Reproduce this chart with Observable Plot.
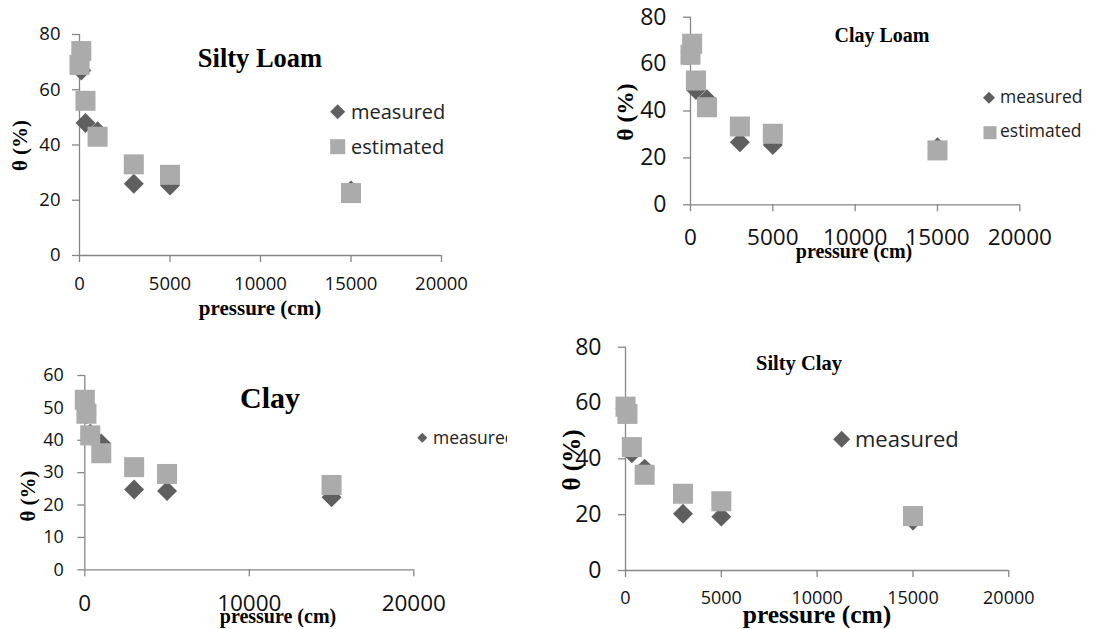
<!DOCTYPE html>
<html><head><meta charset="utf-8">
<script src="https://cdn.jsdelivr.net/npm/d3@7"></script>
<script src="https://cdn.jsdelivr.net/npm/@observablehq/plot@0.6"></script>
<style>
html,body{margin:0;padding:0;background:#fff;}
#root{position:relative;width:1104px;height:629px;overflow:hidden;background:#fff;}
.panel{position:absolute;}
.panel svg{overflow:visible;}
#overlay{position:absolute;left:0;top:0;pointer-events:none;}
</style></head><body><div id="root"></div>
<script>
// ---- data ----
const pressure = [0, 100, 330, 1000, 3000, 5000, 15000];
const siltyLoamMeasured  = [70, 67, 48, 45, 26, 25.3, 23.5];
const siltyLoamEstimated = [69, 74, 56, 43, 33, 29.2, 22.6];
const clayLoamMeasured   = [65, 67, 49, 45, 26.7, 25.5, 24.5];
const clayLoamEstimated  = [64, 68.7, 53, 41.6, 33.4, 30.3, 23.2];
const clayMeasured       = [51.5, 48, 42, 39, 24.8, 24.3, 22.4];
const clayEstimated      = [52.5, 48.2, 41.5, 36, 31.7, 29.6, 26.2];
const siltyClayMeasured  = [58, 56, 42, 36.5, 20.3, 19.3, 17.9];
const siltyClayEstimated = [58.7, 56.1, 44.2, 34.3, 27.5, 24.8, 19.5];
const xTicksFive  = [0, 5000, 10000, 15000, 20000];
const xTicksThree = [0, 10000, 20000];
const yTicks80 = [0, 20, 40, 60, 80];
const yTicks60 = [0, 10, 20, 30, 40, 50, 60];
const seriesNames = ["measured", "estimated"];
const panelTitles = ["Silty Loam", "Clay Loam", "Clay", "Silty Clay"];
const xAxisTitle = "pressure (cm)";
const yAxisTitle = "θ (%)";

// ---- style ----
const SANS = "'Open Sans', sans-serif";
const SERIF = "'Liberation Serif', 'Times New Roman', serif";
const DARK = "#5f5f5f", LIGHT = "#ababab", AXIS = "#868686";
const root = document.getElementById("root");

function panel(cfg) {
  const rows = pressure.map((p, i) => ({p, m: cfg.measured[i], e: cfg.estimated[i]}));
  const ymax = cfg.yTicks[cfg.yTicks.length - 1];
  const svg = Plot.plot({
    width: cfg.width, height: cfg.height,
    marginLeft: cfg.ml, marginRight: cfg.mr, marginTop: cfg.mt, marginBottom: cfg.mb,
    x: {domain: [0, 20000]},
    y: {domain: [0, ymax]},
    style: {fontFamily: SANS, background: "transparent", color: "#000"},
    marks: [
      Plot.ruleY([0], {stroke: AXIS, strokeWidth: 1.3}),
      Plot.ruleX([0], {y1: 0, y2: ymax, stroke: AXIS, strokeWidth: 1.3}),
      Plot.axisX({ticks: cfg.xTicks, tickFormat: d => String(d), tickSize: 7, tickPadding: cfg.xPad,
        stroke: AXIS, strokeWidth: 1.3, fill: "#111", fontSize: cfg.xFont, fontFamily: SANS, label: null}),
      Plot.axisY({ticks: cfg.yTicks, tickFormat: d => String(d), tickSize: 7, tickPadding: cfg.yPad,
        stroke: AXIS, strokeWidth: 1.3, fill: "#111", fontSize: cfg.yFont, fontFamily: SANS, label: null}),
      Plot.dot(rows, {x: "p", y: "m", symbol: "diamond2", r: 9, fill: DARK}),
      Plot.dot(rows, {x: "p", y: "e", symbol: "square", r: 11.3, fill: LIGHT})
    ]
  });
  const div = document.createElement("div");
  div.className = "panel";
  div.style.left = cfg.left + "px";
  div.style.top = cfg.top + "px";
  div.appendChild(svg);
  root.appendChild(div);
}

panel({left: 0, top: 0, width: 500, height: 300, ml: 79, mr: 59, mt: 34, mb: 45,
  measured: siltyLoamMeasured, estimated: siltyLoamEstimated,
  xTicks: xTicksFive, yTicks: yTicks80, xPad: 14, yPad: 12, xFont: 18.5, yFont: 18.5});
panel({left: 560, top: 0, width: 544, height: 280, ml: 130, mr: 84.7, mt: 16.7, mb: 75.7,
  measured: clayLoamMeasured, estimated: clayLoamEstimated,
  xTicks: xTicksFive, yTicks: yTicks80, xPad: 17, yPad: 17, xFont: 22.5, yFont: 23});
panel({left: 0, top: 330, width: 540, height: 299, ml: 84.3, mr: 126.7, mt: 45, mb: 59.7,
  measured: clayMeasured, estimated: clayEstimated,
  xTicks: xTicksThree, yTicks: yTicks60, xPad: 18, yPad: 14, xFont: 22.5, yFont: 18});
panel({left: 560, top: 300, width: 544, height: 329, ml: 65, mr: 95.7, mt: 46.7, mb: 59,
  measured: siltyClayMeasured, estimated: siltyClayEstimated,
  xTicks: xTicksFive, yTicks: yTicks80, xPad: 14, yPad: 17, xFont: 18, yFont: 23});

// ---- overlay: titles, axis titles, legends ----
const ov = d3.create("svg").attr("id", "overlay").attr("width", 1104).attr("height", 629);
ov.append("defs").append("clipPath").attr("id", "clip3")
  .append("rect").attr("x", 400).attr("y", 400).attr("width", 107).attr("height", 80);

function text(g, str, x, y, size, opts = {}) {
  const t = g.append("text").attr("x", x).attr("y", y)
    .attr("font-size", size).attr("font-family", opts.family || SERIF)
    .attr("font-weight", opts.weight || "bold")
    .attr("text-anchor", opts.anchor || "middle")
    .attr("fill", opts.fill || "#000").text(str);
  if (opts.rotate) t.attr("transform", `rotate(-90 ${x} ${y})`).attr("dominant-baseline", "central");
  return t;
}
const g = ov.append("g");
// panel titles (cap-centred -> baseline)
text(g, panelTitles[0], 260, 58 + 0.331 * 26.5, 26.5);
text(g, panelTitles[1], 882, 35 + 0.331 * 20, 20);
text(g, panelTitles[2], 270, 398 + 0.331 * 30, 30);
text(g, panelTitles[3], 799, 363 + 0.331 * 20.5, 20.5);
// x axis titles
text(g, xAxisTitle, 260, 315, 21);
text(g, xAxisTitle, 854, 258, 20);
text(g, xAxisTitle, 278, 623, 20);
text(g, xAxisTitle, 817, 623, 25.5);
// y axis titles
text(g, yAxisTitle, 20, 145.5, 21, {rotate: true});
text(g, yAxisTitle, 625, 112, 23.5, {rotate: true});
text(g, yAxisTitle, 28, 496, 21, {rotate: true});
text(g, yAxisTitle, 571, 460, 25, {rotate: true});

// legends
function diamond(cx, cy, w) {
  const h = w / 2;
  g.append("path").attr("d", `M${cx},${cy - h}L${cx + h},${cy}L${cx},${cy + h}L${cx - h},${cy}Z`).attr("fill", DARK);
}
function square(cx, cy, w) {
  g.append("rect").attr("x", cx - w / 2).attr("y", cy - w / 2).attr("width", w).attr("height", w).attr("fill", LIGHT);
}
const lt = {family: SANS, weight: "normal", anchor: "start", fill: "#222"};
diamond(337.7, 111.7, 15); text(g, seriesNames[0], 351, 119, 20, lt);
square(337.7, 146.7, 15);  text(g, seriesNames[1], 351, 154, 20, lt);
diamond(989, 97.7, 12);    text(g, seriesNames[0], 1000, 102.7, 17.5, lt);
square(990, 132.7, 13);    text(g, seriesNames[1], 1000, 137.3, 17.5, lt);
const g3 = g.append("g").attr("clip-path", "url(#clip3)");
g3.append("path").attr("d", `M422.3,432.7L427.3,437.7L422.3,442.7L417.3,437.7Z`).attr("fill", DARK);
text(g3, seriesNames[0], 433, 444, 17.5, lt);
diamond(841.7, 439.3, 17); text(g, seriesNames[0], 855, 446.7, 22, lt);

root.appendChild(ov.node());
</script></body></html>
